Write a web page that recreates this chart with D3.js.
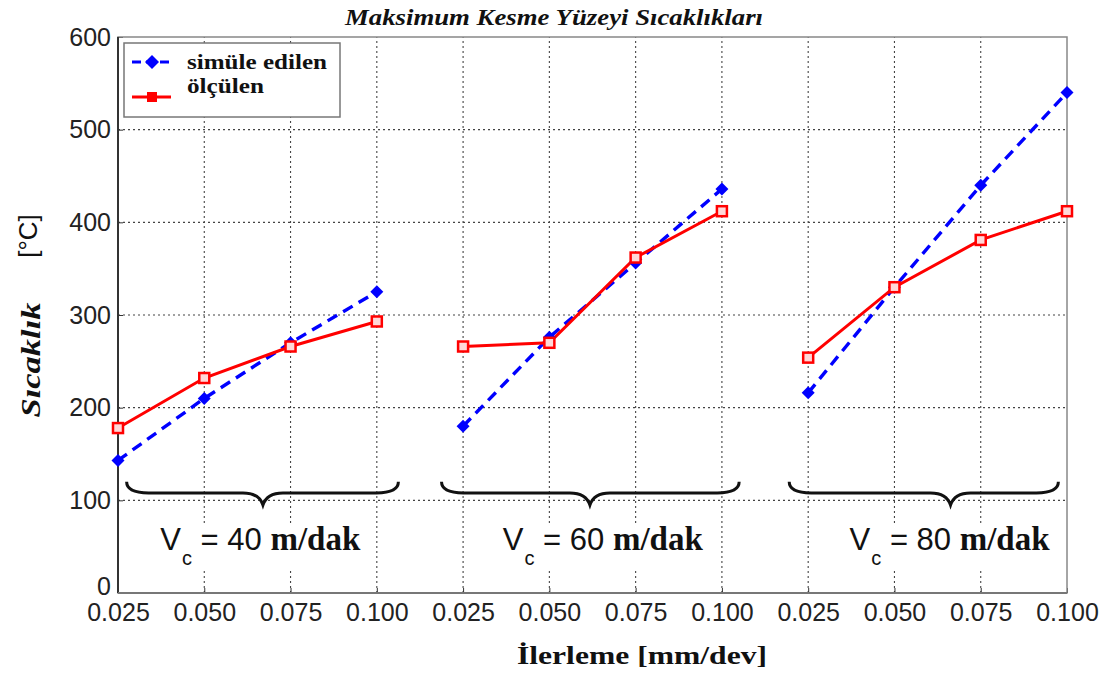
<!DOCTYPE html>
<html><head><meta charset="utf-8">
<script src="https://cdn.jsdelivr.net/npm/d3@7"></script>
<style>body{margin:0;background:#fff}</style>
</head><body>
<svg id="c" width="1099" height="678"></svg>
<script>
// ---- data ----
const feedLabels = ["0.025","0.050","0.075","0.100","0.025","0.050","0.075","0.100","0.025","0.050","0.075","0.100"];
const simulated = [143,210,270,325, 180,276,356,436, 216,330,440,540];
const measured  = [178,232,266,293, 266,270,362,412, 254,330,381,412];
const yTicks = [0,100,200,300,400,500,600];
const groupSpeeds = ["40","60","80"];
const seriesNames = ["simüle edilen","ölçülen"];
const titleText = "Maksimum Kesme Yüzeyi Sıcaklıkları";
const xTitleText = "İlerleme [mm/dev]";
const yTitleText = "Sıcaklık";
const yUnitText = "[°C]";
// brace annotation: [startIndex, endIndex, tipIndex]
const braceStart = [0.1, 3.75, 7.78];
const braceEnd   = [3.25, 7.2, 10.9];
const braceTip   = [1.68, 5.47, 9.65];
const labelStart = [0.49, 4.46, 8.48];

const svg = d3.select("#c");
const x = d3.scaleLinear().domain([0,11]).range([118,1067]);
const y = d3.scaleLinear().domain([0,600]).range([593,37]);

// grid
const grid = svg.append("g").attr("stroke","#444").attr("stroke-width",1.1).attr("stroke-dasharray","2,3");
grid.selectAll("line.h").data(yTicks.filter(v=>v>0&&v<600)).join("line")
  .attr("x1",x(0)).attr("x2",x(11)).attr("y1",d=>y(d)).attr("y2",d=>y(d));
grid.selectAll("line.v").data(d3.range(1,11)).join("line")
  .attr("x1",d=>x(d)).attr("x2",d=>x(d)).attr("y1",y(0)).attr("y2",y(600));

// axes
const ya = svg.append("g").attr("transform",`translate(${x(0)},0)`)
  .call(d3.axisLeft(y).tickValues(yTicks).tickSize(-5).tickPadding(7));
const xa = svg.append("g").attr("transform",`translate(0,${y(0)})`)
  .call(d3.axisBottom(x).tickValues(d3.range(12)).tickFormat(i=>feedLabels[i]).tickSize(-5).tickPadding(10));
[ya,xa].forEach(a=>{
  a.select(".domain").remove();
  a.selectAll("line").attr("stroke","#333");
  a.selectAll("text").attr("font-family","Liberation Sans, Arial, sans-serif").attr("font-size",25).attr("fill","#222");
});
ya.selectAll(".tick text").filter(d=>d===0).attr("dy","0.05em");

// box
svg.append("rect").attr("x",x(0)).attr("y",y(600)).attr("width",x(11)-x(0)).attr("height",y(0)-y(600))
  .attr("fill","none").attr("stroke","#888").attr("stroke-width",1.5);
svg.append("line").attr("x1",x(0)).attr("x2",x(0)).attr("y1",y(600)).attr("y2",y(0)).attr("stroke","#333").attr("stroke-width",2);
svg.append("line").attr("x1",x(0)).attr("x2",x(11)).attr("y1",y(0)).attr("y2",y(0)).attr("stroke","#777").attr("stroke-width",2);

// braces
const braceY = 108, braceEndY = 120, braceTipY = 95;
svg.append("g").selectAll("path").data(d3.range(3)).join("path")
  .attr("fill","none").attr("stroke","#111").attr("stroke-width",3)
  .attr("d",g=>{
    const x1=x(braceStart[g]), x2=x(braceEnd[g]), xm=x(braceTip[g]);
    const yb=y(braceY), ye=y(braceEndY), yt=y(braceTipY);
    return `M${x1},${ye} Q${x1},${yb} ${x1+22},${yb} L${xm-20},${yb} Q${xm-4},${yb} ${xm},${yt} Q${xm+4},${yb} ${xm+20},${yb} L${x2-22},${yb} Q${x2},${yb} ${x2},${ye}`;
  });

// group labels
const lab = svg.append("g");
d3.range(3).forEach(g=>{
  const bg = lab.append("rect").attr("fill","#fff");
  const t = lab.append("text").attr("x",x(labelStart[g])).attr("y",y(46)).attr("fill","#111");
  t.append("tspan").text("V").attr("font-family","Liberation Sans, Arial, sans-serif").attr("font-size",31);
  t.append("tspan").text("c").attr("font-family","Liberation Sans, Arial, sans-serif").attr("font-size",20).attr("dy",15).attr("dx",1);
  t.append("tspan").text(" = " + groupSpeeds[g] + " ").attr("font-family","Liberation Sans, Arial, sans-serif").attr("font-size",31).attr("dy",-15);
  t.append("tspan").text("m/dak").attr("font-family","Liberation Serif, Times New Roman, serif").attr("font-weight","bold").attr("font-size",33);
  const b = t.node().getBBox();
  bg.attr("x",b.x-4).attr("y",b.y+2).attr("width",b.width+8).attr("height",b.height-2);
});

// series
const groups = d3.range(3);
const line = d3.line().x(d=>x(d[0])).y(d=>y(d[1]));
groups.forEach(g=>{
  const idx = d3.range(g*4, g*4+4);
  svg.append("path").datum(idx.map(i=>[i,simulated[i]])).attr("d",line)
    .attr("fill","none").attr("stroke","#0000ff").attr("stroke-width",3.4).attr("stroke-dasharray","11,7");
  svg.append("path").datum(idx.map(i=>[i,measured[i]])).attr("d",line)
    .attr("fill","none").attr("stroke","#ff0000").attr("stroke-width",3);
});
const diamond = s => `M0,${-s} L${s},0 L0,${s} L${-s},0Z`;
svg.append("g").selectAll("path").data(d3.range(12)).join("path")
  .attr("transform",i=>`translate(${x(i)},${y(simulated[i])})`).attr("d",diamond(6.5)).attr("fill","#0000ff");
svg.append("g").selectAll("rect").data(d3.range(12)).join("rect")
  .attr("x",i=>x(i)-5).attr("y",i=>y(measured[i])-5).attr("width",10).attr("height",10)
  .attr("fill","#ffd8d8").attr("stroke","#ff0000").attr("stroke-width",2.5);

// legend
const lg = svg.append("g");
lg.append("rect").attr("x",124).attr("y",43).attr("width",216).attr("height",74).attr("fill","#fff").attr("stroke","#777").attr("stroke-width",1.5);
lg.append("line").attr("x1",132).attr("x2",171).attr("y1",62).attr("y2",62).attr("stroke","#0000ff").attr("stroke-width",3.2).attr("stroke-dasharray","9,5");
lg.append("path").attr("transform","translate(152,62)").attr("d",diamond(7)).attr("fill","#0000ff");
lg.append("line").attr("x1",132).attr("x2",171).attr("y1",97).attr("y2",97).attr("stroke","#ff0000").attr("stroke-width",3.2);
lg.append("rect").attr("x",147).attr("y",92).attr("width",10).attr("height",10).attr("fill","#ff0000");
lg.selectAll("text").data(seriesNames).join("text")
  .attr("x",187).attr("y",(d,i)=>i===0?69:93).text(d=>d)
  .attr("font-family","Liberation Serif, Times New Roman, serif").attr("font-weight","bold").attr("font-size",22).attr("fill","#111")
  .attr("textLength",(d,i)=>i===0?140:77).attr("lengthAdjust","spacingAndGlyphs");

// titles
svg.append("text").attr("x",554).attr("y",25).attr("text-anchor","middle").text(titleText)
  .attr("font-family","Liberation Serif, Times New Roman, serif").attr("font-weight","bold").attr("font-style","italic")
  .attr("font-size",24).attr("fill","#111").attr("textLength",418).attr("lengthAdjust","spacingAndGlyphs");
svg.append("text").attr("x",642).attr("y",664).attr("text-anchor","middle").text(xTitleText)
  .attr("font-family","Liberation Serif, Times New Roman, serif").attr("font-weight","bold")
  .attr("font-size",26).attr("fill","#111").attr("textLength",250).attr("lengthAdjust","spacingAndGlyphs");
svg.append("text").attr("transform","translate(40,360) rotate(-90)").attr("text-anchor","middle").text(yTitleText)
  .attr("font-family","Liberation Serif, Times New Roman, serif").attr("font-weight","bold").attr("font-style","italic")
  .attr("font-size",28).attr("fill","#111").attr("textLength",115).attr("lengthAdjust","spacingAndGlyphs");
svg.append("text").attr("transform","translate(37,236) rotate(-90)").attr("text-anchor","middle").text(yUnitText)
  .attr("font-family","Liberation Sans, Arial, sans-serif").attr("font-size",26).attr("fill","#111");
</script>
</body></html>
